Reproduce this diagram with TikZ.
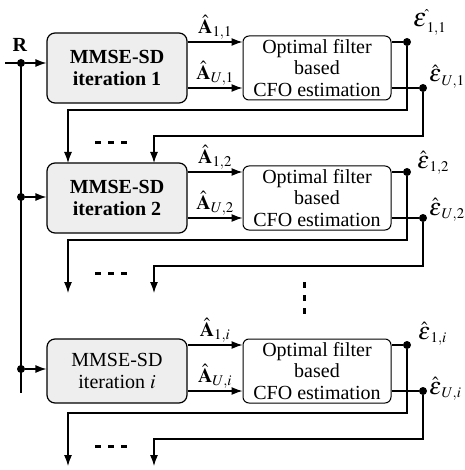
\documentclass[tikz,border=0pt]{standalone}
\usepackage{amsmath}
\usepackage{mathptmx}
\usepackage{fontspec}
\setmainfont{Liberation Serif}
\usetikzlibrary{arrows.meta,positioning}
\definecolor{blockgray}{HTML}{EEEEEE}
\newcommand{\bigeps}{\mbox{\fontsize{24}{24}\selectfont$\varepsilon$}}
\newcommand{\boldeps}{\mbox{\fontsize{26}{26}\selectfont$\boldsymbol{\varepsilon}$}}
\tikzset{
  wire/.style={line width=1.2pt},
  sig/.style={wire, -{Latex[length=11pt,width=8pt]}},
  mmse/.style={draw, wire, fill=blockgray, rounded corners=8pt, minimum width=140pt, align=center, inner sep=0pt},
  cfo/.style={draw, line width=1pt, fill=white, rounded corners=6pt, minimum width=148pt, minimum height=64pt, align=center, inner sep=0pt},
  tap/.style={circle, fill, inner sep=0pt, minimum size=8pt},
  gap/.style={line width=3pt, dash pattern=on 6pt off 7pt},
  est/.style={anchor=base west, inner sep=0pt},
}

\begin{document}
\begin{tikzpicture}[x=1pt,y=-1pt,font=\fontsize{20}{21.5}\selectfont]
  \useasboundingbox (0,0) rectangle (464,470);
  % columns
  \coordinate (xa) at (407,0);
  \coordinate (xb) at (423,0);

  % input bus
  \coordinate (rin) at (5,63);
  \coordinate (rend) at (21,393);
  \node (rlab) at (20,45) {\textbf{R}};
  \draw[wire] (rin) -- (21,63) coordinate (rtop) -- (rend);

  % one stage per row
  \foreach \r/\cy/\h/\d/\txt/\ea/\ax/\ay/\bx/\by in {
      1/68/70/-5/{\textbf{MMSE-SD}\\\textbf{iteration 1}}/{\boldeps^{\hat{}}}/6/15/6/6,
      2/198/70/-1/{\textbf{MMSE-SD}\\\textbf{iteration 2}}/{\hat{\bigeps}}/10/4/6/3,
      i/371/64/-2/{MMSE-SD\\iteration $i$}/{\hat{\bigeps}}/11/6/6/-3}{
    \node[mmse, minimum height=\h pt] (m\r) at (117,\cy) {\txt};
    \node[cfo] (f\r) at (317,\cy) {Optimal filter\\based\\CFO estimation};
    % bus tap
    \node[tap] (b\r) at (21,{\cy+\d}) {};
    \draw[sig] (b\r) -- (b\r -| m\r.west);
    % amplitude estimates
    \coordinate (sa\r) at ([yshift=26pt]m\r.east);
    \coordinate (sb\r) at ([yshift=-20pt]m\r.east);
    \draw[sig] (sa\r) -- node[above, inner sep=2pt] {$\hat{\mathbf{A}}_{1,\r}$} (sa\r -| f\r.west);
    \draw[sig] (sb\r) -- node[above, inner sep=2pt] {$\hat{\mathbf{A}}_{U,\r}$} (sb\r -| f\r.west);
    % CFO outputs
    \node[tap] (ta\r) at (sa\r -| xa) {};
    \node[tap] (tb\r) at (sb\r -| xb) {};
    \draw[wire] (sa\r -| f\r.east) -- (ta\r);
    \draw[wire] (sb\r -| f\r.east) -- (tb\r);
    \node[est] (la\r) at ([xshift=\ax pt,yshift=\ay pt]ta\r) {$\ea_{1,\r}$};
    \node[est] (lb\r) at ([xshift=\bx pt,yshift=\by pt]tb\r) {$\hat{\bigeps}_{U,\r}$};
    % feedback to next stage
    \coordinate (ja\r) at (68,{\cy+42});
    \coordinate (ea\r) at (68,{\cy+95});
    \coordinate (jb\r) at (154,{\cy+68});
    \coordinate (eb\r) at (154,{\cy+95});
    \draw[sig] (ta\r) |- (ja\r) -- (ea\r);
    \draw[sig] (tb\r) |- (jb\r) -- (eb\r);
    \draw[gap] (95,{\cy+75}) -- (130,{\cy+75});
  }

  % skipped stages
  \draw[gap] (304,282) -- (304,320);
\end{tikzpicture}
\end{document}
